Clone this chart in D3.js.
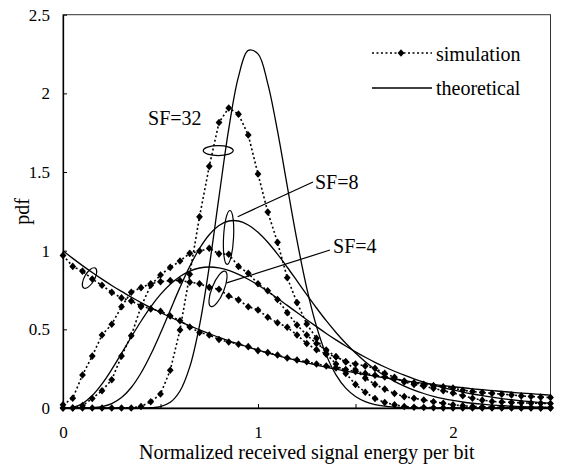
<!DOCTYPE html>
<html>
<head>
<meta charset="utf-8">
<script src="https://cdn.jsdelivr.net/npm/d3@7"></script>
<style>
  body { margin: 0; background: #fff; }
  svg text { font-family: "Liberation Serif", "DejaVu Serif", serif; fill: #000; }
</style>
</head>
<body>
<div id="chart"></div>
<script>
// x positions of the samples (normalized energy per bit)
var energyX = [0, 0.05, 0.1, 0.15, 0.2, 0.25, 0.3, 0.35, 0.4, 0.45,
  0.5, 0.55, 0.6, 0.65, 0.7, 0.75, 0.8, 0.85, 0.9, 0.95,
  1.0, 1.05, 1.1, 1.15, 1.2, 1.25, 1.3, 1.35, 1.4, 1.45,
  1.5, 1.55, 1.6, 1.65, 1.7, 1.75, 1.8, 1.85, 1.9, 1.95,
  2.0, 2.05, 2.1, 2.15, 2.2, 2.25, 2.3, 2.35, 2.4, 2.45, 2.5];

// simulation
var simSF1 = [0.97, 0.90, 0.87, 0.82, 0.78, 0.735, 0.70, 0.68, 0.65, 0.63,
  0.615, 0.585, 0.555, 0.515, 0.48, 0.464, 0.435, 0.42, 0.405, 0.39,
  0.365, 0.352, 0.337, 0.318, 0.305, 0.294, 0.28, 0.267, 0.255, 0.244,
  0.232, 0.22, 0.208, 0.197, 0.186, 0.172, 0.16, 0.15, 0.142, 0.135,
  0.127, 0.113, 0.105, 0.098, 0.093, 0.088, 0.083, 0.077, 0.073, 0.069, 0.067];
var simSF4 = [0.02, 0.062, 0.21, 0.33, 0.464, 0.532, 0.644, 0.736, 0.765, 0.79,
  0.803, 0.81, 0.81, 0.80, 0.79, 0.767, 0.755, 0.712, 0.687, 0.644,
  0.623, 0.577, 0.542, 0.513, 0.464, 0.41, 0.37, 0.343, 0.326, 0.294,
  0.28, 0.267, 0.252, 0.22, 0.195, 0.165, 0.15, 0.138, 0.125, 0.11,
  0.095, 0.078, 0.062, 0.05, 0.042, 0.038, 0.035, 0.033, 0.031, 0.03, 0.029];
var simSF8 = [0, 0, 0.015, 0.06, 0.11, 0.18, 0.33, 0.46, 0.644, 0.78,
  0.845, 0.894, 0.934, 0.983, 0.998, 1.015, 0.98, 0.977, 0.90, 0.856,
  0.79, 0.745, 0.69, 0.606, 0.528, 0.464, 0.41, 0.369, 0.326, 0.294,
  0.242, 0.19, 0.15, 0.12, 0.092, 0.072, 0.062, 0.051, 0.04, 0.03,
  0.02, 0.014, 0.01, 0.007, 0.005, 0.004, 0.003, 0.002, 0.002, 0.001, 0.001];
var simSF32 = [0, 0, 0, 0, 0, 0, 0, 0, 0.01, 0.04,
  0.089, 0.24, 0.496, 0.85, 1.215, 1.536, 1.815, 1.907, 1.868, 1.735,
  1.487, 1.246, 1.053, 0.828, 0.67, 0.534, 0.443, 0.343, 0.28, 0.22,
  0.15, 0.10, 0.06, 0.035, 0.02, 0.01, 0.005, 0.003, 0.002, 0.001,
  0, 0, 0, 0, 0, 0, 0, 0, 0, 0, 0];

// theoretical curves
var theorySF1 = [1, 0.951, 0.905, 0.861, 0.819, 0.779, 0.741, 0.705, 0.670, 0.638,
  0.607, 0.577, 0.549, 0.522, 0.497, 0.472, 0.449, 0.427, 0.407, 0.387,
  0.368, 0.350, 0.333, 0.317, 0.301, 0.287, 0.273, 0.259, 0.247, 0.235,
  0.223, 0.212, 0.202, 0.192, 0.183, 0.174, 0.165, 0.157, 0.150, 0.142,
  0.135, 0.129, 0.122, 0.116, 0.111, 0.105, 0.100, 0.095, 0.091, 0.086, 0.082];
var theorySF4 = [0, 0.0044, 0.0286, 0.079, 0.1534, 0.2453, 0.347, 0.4511, 0.5513, 0.6427,
  0.7218, 0.7866, 0.8361, 0.8703, 0.8899, 0.8962, 0.8904, 0.8744, 0.8498, 0.8183,
  0.7815, 0.7407, 0.6972, 0.6523, 0.6068, 0.5615, 0.5171, 0.4741, 0.4329, 0.3938,
  0.3569, 0.3224, 0.2904, 0.2607, 0.2335, 0.2085, 0.1858, 0.1651, 0.1465, 0.1296,
  0.1145, 0.101, 0.0889, 0.0781, 0.0685, 0.06, 0.0525, 0.0458, 0.0399, 0.0348, 0.0303];
var theorySF8 = [0, 0, 0.0002, 0.0017, 0.0086, 0.0275, 0.066, 0.1303, 0.2223, 0.3399,
  0.4763, 0.6221, 0.7667, 0.9001, 1.0138, 1.1014, 1.160, 1.1886, 1.1887, 1.1635,
  1.1167, 1.0533, 0.9778, 0.8947, 0.8079, 0.7206, 0.6357, 0.5549, 0.4799, 0.4112,
  0.3495, 0.2947, 0.2467, 0.2051, 0.1694, 0.1391, 0.1136, 0.0922, 0.0745, 0.0599,
  0.0479, 0.0382, 0.0303, 0.024, 0.0189, 0.0148, 0.0116, 0.009, 0.007, 0.0054, 0.0042];
var theorySF32 = [0, 0, 0, 0, 0, 0, 0, 0, 0.0002, 0.0018,
  0.0093, 0.0361, 0.1081, 0.2611, 0.5243, 0.8988, 1.3416, 1.774, 2.1066, 2.2732,
  2.251, 2.0624, 1.761, 1.4104, 1.0652, 0.7624, 0.5192, 0.3377, 0.2105, 0.1261,
  0.0729, 0.0406, 0.022, 0.0115, 0.0059, 0.0029, 0.0014, 0.0007, 0.0003, 0.0001,
  0, 0, 0, 0, 0, 0, 0, 0, 0, 0, 0];

var xTicks = [0, 0.5, 1, 1.5, 2, 2.5];
var xTickLabels = ["0", "", "1", "", "2", ""];
var yTicks = [0, 0.5, 1, 1.5, 2, 2.5];

var simSeries = [simSF1, simSF4, simSF8, simSF32];
var theorySeries = [theorySF1, theorySF4, theorySF8, theorySF32];

var serif = "'Liberation Serif', 'DejaVu Serif', serif";

// Set up the svg params
var svgWidth = 568;
var svgHeight = 466;
var plot = { left: 63, right: 550.5, top: 14.7, bottom: 408 };

var svg = d3.select("#chart").append("svg")
    .attr("width", svgWidth)
    .attr("height", svgHeight)
    .attr("font-family", serif);

var x = d3.scaleLinear().domain([0, 2.5]).range([plot.left, plot.right]);
var y = d3.scaleLinear().domain([0, 2.5]).range([plot.bottom, plot.top]);

// frame
svg.append("rect")
    .attr("x", plot.left)
    .attr("y", plot.top)
    .attr("width", plot.right - plot.left)
    .attr("height", plot.bottom - plot.top)
    .attr("fill", "none")
    .attr("stroke", "#333")
    .attr("stroke-width", 1);

// axes, ticks point inside
var leftAxis = d3.axisLeft(y)
    .tickValues(yTicks)
    .tickSize(-4)
    .tickSizeOuter(0)
    .tickPadding(13)
    .tickFormat(d => d);

var bottomAxis = d3.axisBottom(x)
    .tickValues(xTicks)
    .tickSize(-4)
    .tickSizeOuter(0)
    .tickPadding(18)
    .tickFormat((d, i) => xTickLabels[i]);

var gy = svg.append("g")
    .attr("transform", `translate(${plot.left}, 0)`)
    .call(leftAxis);

var gx = svg.append("g")
    .attr("transform", `translate(0, ${plot.bottom})`)
    .call(bottomAxis);

[gx, gy].forEach(g => {
    g.attr("font-family", serif).attr("font-size", 17);
    g.select(".domain").attr("stroke", "#000").attr("stroke-width", 1.3);
    g.selectAll(".tick line").attr("stroke", "#000");
    g.selectAll(".tick text").attr("fill", "#000");
});

// axis titles
svg.append("text")
    .attr("x", (plot.left + plot.right) / 2)
    .attr("y", 459)
    .attr("text-anchor", "middle")
    .attr("font-size", 20)
    .text("Normalized received signal energy per bit");

svg.append("text")
    .attr("transform", `translate(29, ${(plot.top + plot.bottom) / 2}) rotate(-90)`)
    .attr("text-anchor", "middle")
    .attr("font-size", 20)
    .text("pdf");

// theoretical curves
var theoryLine = d3.line()
    .x((d, i) => x(energyX[i]))
    .y(d => y(d))
    .curve(d3.curveCatmullRom.alpha(0.5));

svg.append("g").selectAll("path")
    .data(theorySeries)
    .enter()
    .append("path")
    .attr("d", theoryLine)
    .attr("fill", "none")
    .attr("stroke", "#000")
    .attr("stroke-width", 1.3);

// simulation: dotted lines + diamonds
var simLine = d3.line()
    .x((d, i) => x(energyX[i]))
    .y(d => y(d));

svg.append("g").selectAll("path")
    .data(simSeries)
    .enter()
    .append("path")
    .attr("d", simLine)
    .attr("fill", "none")
    .attr("stroke", "#000")
    .attr("stroke-width", 1.6)
    .attr("stroke-dasharray", "2,2.5");

var diamond = "M0,-3.8L3.4,0L0,3.8L-3.4,0Z";

simSeries.forEach(s => {
    svg.append("g").selectAll("path")
        .data(s)
        .enter()
        .append("path")
        .attr("d", diamond)
        .attr("transform", (d, i) => `translate(${x(energyX[i])}, ${y(d)})`)
        .attr("fill", "#000");
});

// annotations: ellipses, leader lines and labels (in data units)
var ellipses = [
    { cx: 0.796, cy: 1.636, rx: 15, ry: 5, rot: 0 },
    { cx: 0.849, cy: 1.084, rx: 5, ry: 27, rot: 3 },
    { cx: 0.795, cy: 0.757, rx: 6, ry: 19, rot: 22 },
    { cx: 0.136, cy: 0.826, rx: 5, ry: 11.5, rot: 30 }
];
var leaders = [
    { x1: 0.896, y1: 1.216, x2: 1.282, y2: 1.437 },
    { x1: 0.839, y1: 0.795, x2: 1.369, y2: 1.004 }
];
var labels = [
    { x: 0.436, y: 1.799, text: "SF=32" },
    { x: 1.292, y: 1.392, text: "SF=8" },
    { x: 1.385, y: 0.985, text: "SF=4" }
];

svg.append("g").selectAll("ellipse")
    .data(ellipses)
    .enter()
    .append("ellipse")
    .attr("transform", d => `translate(${x(d.cx)}, ${y(d.cy)}) rotate(${d.rot})`)
    .attr("rx", d => d.rx)
    .attr("ry", d => d.ry)
    .attr("fill", "none")
    .attr("stroke", "#000")
    .attr("stroke-width", 1.2);

svg.append("g").selectAll("line")
    .data(leaders)
    .enter()
    .append("line")
    .attr("x1", d => x(d.x1))
    .attr("y1", d => y(d.y1))
    .attr("x2", d => x(d.x2))
    .attr("y2", d => y(d.y2))
    .attr("stroke", "#000")
    .attr("stroke-width", 1.2);

svg.append("g").selectAll("text")
    .data(labels)
    .enter()
    .append("text")
    .attr("x", d => x(d.x))
    .attr("y", d => y(d.y))
    .attr("font-size", 20)
    .text(d => d.text);

// legend
var legend = svg.append("g");

legend.append("line")
    .attr("x1", 372).attr("x2", 432)
    .attr("y1", 53).attr("y2", 53)
    .attr("stroke", "#000")
    .attr("stroke-width", 1.6)
    .attr("stroke-dasharray", "2,2.5");

legend.append("path")
    .attr("d", diamond)
    .attr("transform", "translate(401, 53)")
    .attr("fill", "#000");

legend.append("text")
    .attr("x", 436)
    .attr("y", 61)
    .attr("font-size", 20)
    .text("simulation");

legend.append("line")
    .attr("x1", 372).attr("x2", 432)
    .attr("y1", 88).attr("y2", 88)
    .attr("stroke", "#000")
    .attr("stroke-width", 1.3);

legend.append("text")
    .attr("x", 436)
    .attr("y", 95)
    .attr("font-size", 20)
    .text("theoretical");
</script>
</body>
</html>
